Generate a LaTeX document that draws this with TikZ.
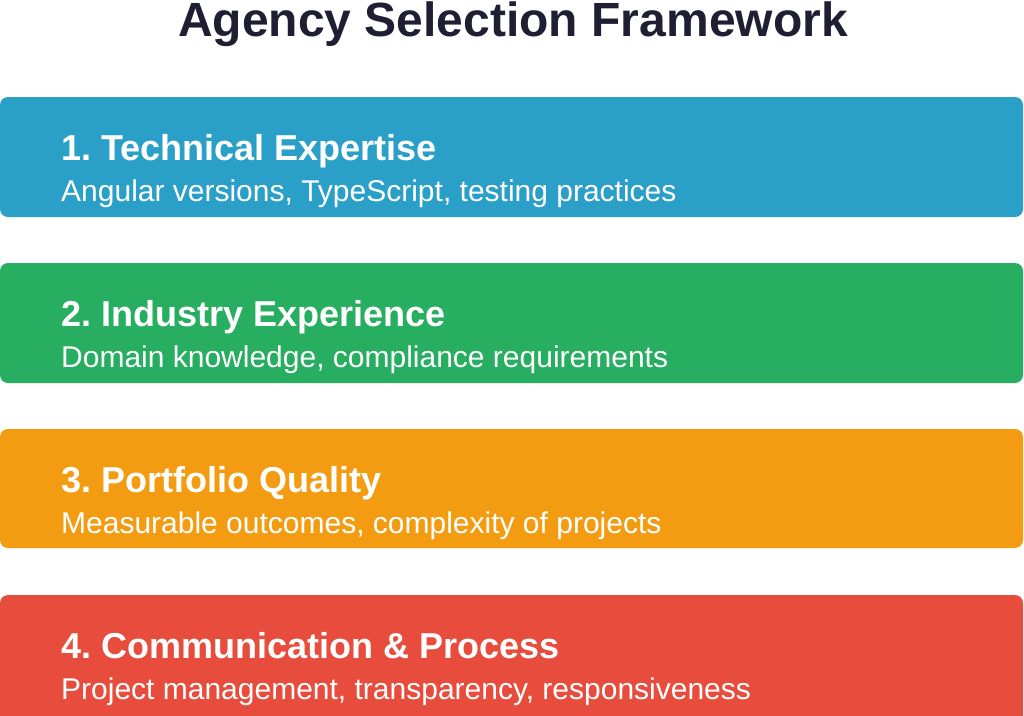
\documentclass[tikz,border=0pt]{standalone}
\usepackage{fontspec}
\setmainfont{Liberation Sans}
\frenchspacing
\begin{document}
\begin{tikzpicture}[x=1pt,y=-1pt]
  % colors
  \definecolor{kNavy}{HTML}{1F1F33}
  \definecolor{kBlue}{HTML}{2A9FC7}
  \definecolor{kGreen}{HTML}{27AE60}
  \definecolor{kOrange}{HTML}{F39C12}
  \definecolor{kRed}{HTML}{E74C3C}
  \tikzset{
    panel/.style={rounded corners=8pt,draw=none},
    heading/.style={anchor=base west,inner sep=0pt,text=white,font=\fontsize{36}{40}\selectfont\bfseries},
    detail/.style={anchor=base west,inner sep=0pt,text=white,font=\fontsize{30}{34}\selectfont}
  }
  % frame
  \clip (0,0) rectangle (1024,715);
  \useasboundingbox (0,0) rectangle (1024,715);
  \fill[white] (0,0) rectangle (1024,715);
  % title
  \node[anchor=base,inner sep=0pt,text=kNavy,font=\fontsize{48}{52}\selectfont\bfseries] (title) at (513,36) {Agency Selection Framework};
  % panels
  \fill[panel,kBlue] (0,97) rectangle (1023,217);
  \fill[panel,kGreen] (0,263) rectangle (1023,383);
  \fill[panel,kOrange] (0,429) rectangle (1023,548);
  \fill[panel,kRed] (0,595) rectangle (1023,740);
  % texts
  \node[heading] (h1) at (61,160) {1. Technical Expertise};
  \node[detail] (d1) at (61,201) {Angular versions, TypeScript, testing practices};
  \node[heading] (h2) at (61,326) {2. Industry Experience};
  \node[detail] (d2) at (61,367) {Domain knowledge, compliance requirements};
  \node[heading] (h3) at (61,492) {3. Portfolio Quality};
  \node[detail] (d3) at (61,533) {Measurable outcomes, complexity of projects};
  \node[heading] (h4) at (61,658) {4. Communication \& Process};
  \node[detail] (d4) at (61,699) {Project management, transparency, responsiveness};
\end{tikzpicture}
\end{document}
